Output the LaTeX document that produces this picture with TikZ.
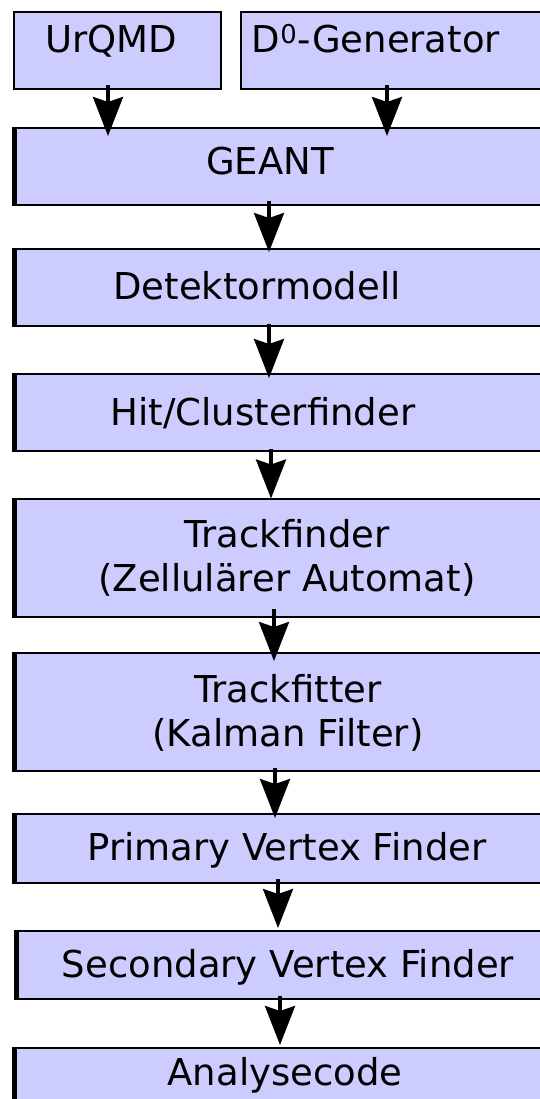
\documentclass[tikz,border=0pt]{standalone}
\usepackage{fontspec}
\setmainfont{DejaVu Sans}
\usetikzlibrary{arrows.meta}
\definecolor{boxfill}{RGB}{204,204,255}
\begin{document}
\begin{tikzpicture}[x=1pt,y=-1pt,
  box/.style={draw=black, line width=2pt, fill=boxfill, rectangle, inner sep=0pt, anchor=north west},
  leftedge/.style={line width=4.5pt},
  lbl/.style={font=\fontsize{37}{44}\selectfont, anchor=base, inner sep=0pt, align=center},
  arr/.style={line width=3.5pt, -{Stealth[length=39pt,width=30pt,inset=5pt]}}]
\useasboundingbox (0,0) rectangle (540,1099);
\clip (0,0) rectangle (540,1099);

% input generators
\node[box, minimum width=207pt, minimum height=77pt] (urqmd) at (13,11) {};
\node[box, minimum width=320pt, minimum height=77pt] (dgen) at (240,11) {};

% processing chain
\node[box, minimum width=548pt, minimum height=77pt] (geant) at (13,127) {};
\node[box, minimum width=548pt, minimum height=77pt] (det) at (13,248) {};
\node[box, minimum width=548pt, minimum height=77pt] (hit) at (13,373) {};
\node[box, minimum width=548pt, minimum height=118pt] (tfind) at (13,498) {};
\node[box, minimum width=548pt, minimum height=118pt] (tfit) at (13,652) {};
\node[box, minimum width=548pt, minimum height=69pt] (pvf) at (13,813) {};
\node[box, minimum width=548pt, minimum height=68pt] (svf) at (15,930) {};
\node[box, minimum width=548pt, minimum height=80pt] (ana) at (13,1047) {};

% heavy left border of the chain boxes
\foreach \b in {geant,det,hit,tfind,tfit,pvf,svf,ana}
  \draw[leftedge] ([xshift=1.5pt]\b.north west) -- ([xshift=1.5pt]\b.south west);

% labels (base anchor = baseline of the last line)
\node[lbl] (lurqmd) at (111,53) {UrQMD};
\node[lbl] (ldgen) at (376,53) {D\textsuperscript{0}-Generator};
\node[lbl] (lgeant) at (270,175) {GEANT};
\node[lbl] (ldet) at (257,299) {Detektormodell};
\node[lbl] (lhit) at (263,425) {Hit/Clusterfinder};
\node[lbl] (ltfind) at (287,591) {Trackfinder\\(Zellulärer Automat)};
\node[lbl] (ltfit) at (288,746) {Trackfitter\\(Kalman Filter)};
\node[lbl] (lpvf) at (287,860) {Primary Vertex Finder};
\node[lbl] (lsvf) at (288,977) {Secondary Vertex Finder};
\node[lbl] (lana) at (285,1085) {Analysecode};

% data flow
\draw[arr] ([xshift=-9.5pt,yshift=5pt]urqmd.south) coordinate (a1) -- ([yshift=-9pt]geant.north -| a1);
\draw[arr] ([xshift=-14pt,yshift=5pt]dgen.south) coordinate (a2) -- ([yshift=-9pt]geant.north -| a2);
\draw[arr] ([xshift=-19pt,yshift=5pt]geant.south) coordinate (a3) -- ([yshift=-4pt]det.north -| a3);
\draw[arr] ([xshift=-19pt,yshift=3pt]det.south) coordinate (a4) -- ([yshift=-5pt]hit.north -| a4);
\draw[arr] ([xshift=-17pt,yshift=3pt]hit.south) coordinate (a5) -- ([yshift=-0.5pt]tfind.north -| a5);
\draw[arr] ([xshift=-14pt,yshift=9pt]tfind.south) coordinate (a6) -- ([yshift=-9pt]tfit.north -| a6);
\draw[arr] ([xshift=-13pt,yshift=4pt]tfit.south) coordinate (a7) -- ([yshift=-5pt]pvf.north -| a7);
\draw[arr] ([xshift=-10pt,yshift=5pt]pvf.south) coordinate (a8) -- ([yshift=2pt]svf.north -| a8);
\draw[arr] ([xshift=-10pt,yshift=4pt]svf.south) coordinate (a9) -- ([yshift=2pt]ana.north -| a9);
\end{tikzpicture}
\end{document}
